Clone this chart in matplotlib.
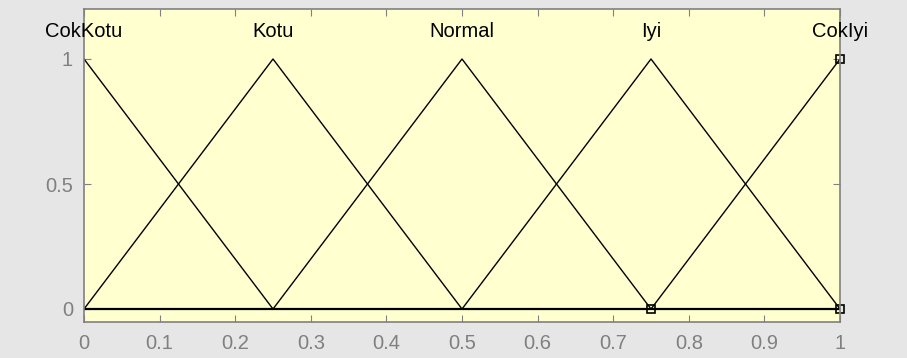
import numpy as np
import matplotlib
matplotlib.use("Agg")
import matplotlib.pyplot as plt

plt.rcParams['font.family'] = ['Liberation Sans', 'DejaVu Sans']

# membership functions (triangular), params [a b c]
mf_names = ["CokKotu", "Kotu", "Normal", "Iyi", "CokIyi"]
mf_params = [
    [-0.25, 0.0, 0.25],
    [0.0, 0.25, 0.5],
    [0.25, 0.5, 0.75],
    [0.5, 0.75, 1.0],
    [0.75, 1.0, 1.25],
]
selected = 4  # highlighted MF (squares on its vertices)

x = np.linspace(0, 1, 801)

def trimf(x, p):
    a, b, c = p
    return np.maximum(np.minimum((x - a) / (b - a), (c - x) / (c - b)), 0)

fig = plt.figure(figsize=(9.07, 3.58), dpi=100, facecolor="#e6e6e6")
ax = fig.add_axes([84 / 907, (358 - 321.5) / 358, (840 - 84) / 907, (321.5 - 9) / 358])
ax.set_facecolor("#ffffd0")

for name, p in zip(mf_names, mf_params):
    ax.plot(x, trimf(x, p), color="black", lw=1.0)
    ax.text(p[1], 1.11, name, ha="center", va="center", fontsize=14.5, color="black")

ax.plot([0, 1], [0, 0], color="black", lw=1.6)

# selection markers
p = mf_params[selected]
sx = np.clip(p, 0, 1)
sy = [0, 1, 0]
ax.plot(sx, sy, ls="none", marker="s", ms=6, mfc="none", mec="black", mew=1.2, clip_on=False)

ax.set_xlim(0, 1)
ax.set_ylim(-0.05, 1.2)
ax.set_xticks(np.arange(0, 1.01, 0.1))
ax.set_xticklabels(["0", "0.1", "0.2", "0.3", "0.4", "0.5", "0.6", "0.7", "0.8", "0.9", "1"])
ax.set_yticks([0, 0.5, 1])
ax.set_yticklabels(["0", "0.5", "1"])
ax.tick_params(direction="in", length=5, colors="#808080", labelcolor="#808080",
               labelsize=14.5, top=True, right=True)
ax.tick_params(axis="x", pad=9)
ax.tick_params(axis="y", pad=8)
for s in ax.spines.values():
    s.set_color("#808080")
    s.set_linewidth(1.2)

fig.savefig("out.png", dpi=100, facecolor=fig.get_facecolor())
